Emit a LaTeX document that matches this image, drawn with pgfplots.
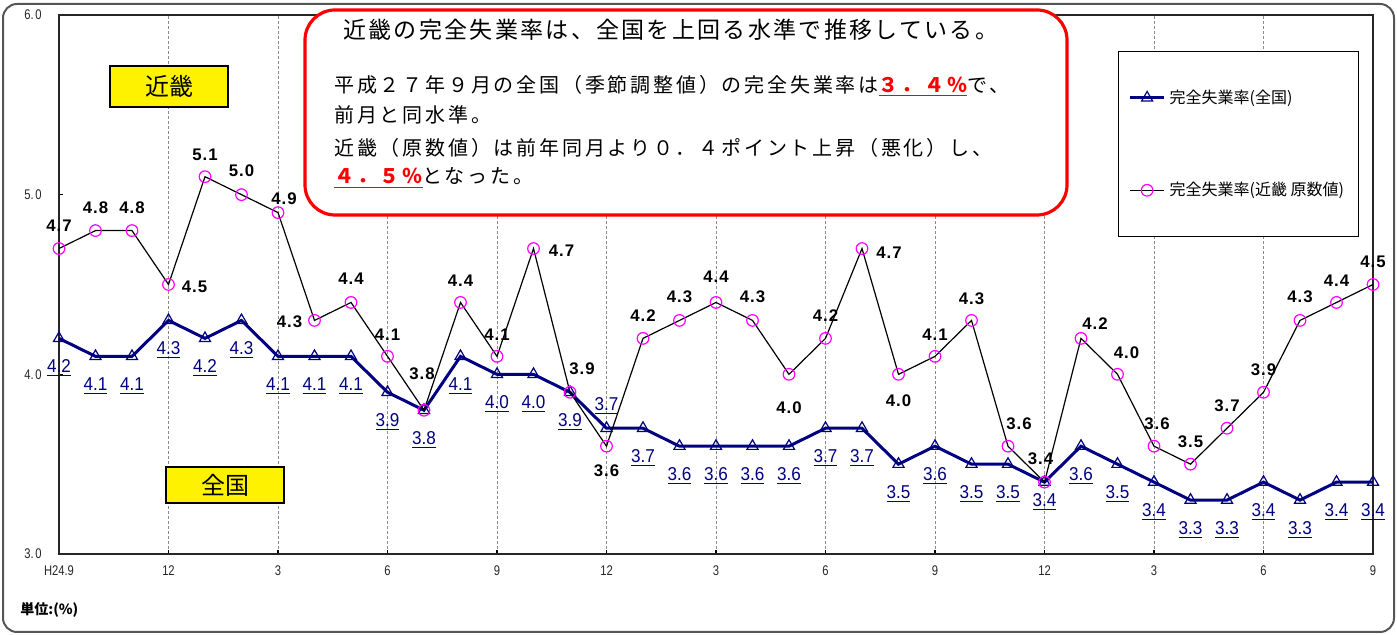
\documentclass[border=0pt]{standalone}
\usepackage{fontspec}
\usepackage{pgfplots}
\usepackage{pgfplotstable}
\pgfplotsset{compat=1.18}
\setmainfont{Liberation Sans}
\newfontfamily\jp{Noto Sans CJK JP}
\newfontfamily\jphead[LetterSpace=10]{Noto Sans CJK JP}
\newfontfamily\jpbody[LetterSpace=14]{Noto Sans CJK JP}
\newfontfamily\narrowsans[FakeStretch=0.92]{Liberation Sans}
\newfontfamily\ticksans[FakeStretch=0.8]{Liberation Sans}
\newfontfamily\valfont[LetterSpace=6]{Liberation Sans}

\definecolor{navy}{RGB}{0,0,128}
\definecolor{kinkimark}{RGB}{255,0,255}
\definecolor{framegray}{RGB}{85,85,85}

% month index (0 = H24.9), rate in %, label offset in px (dx right, dy down to the label baseline)
\pgfplotstableread{
idx rate dx dy
0 4.2 0 34
1 4.1 0 34
2 4.1 0 34
3 4.3 0 34
4 4.2 0 34
5 4.3 0 34
6 4.1 0 34
7 4.1 0 34
8 4.1 0 34
9 3.9 0 34
10 3.8 0 34
11 4.1 0 34
12 4.0 0 34
13 4.0 0 34
14 3.9 0 34
15 3.7 0 -17.5
16 3.7 0 34
17 3.6 0 34
18 3.6 0 34
19 3.6 0 34
20 3.6 0 34
21 3.7 0 34
22 3.7 0 34
23 3.5 0 34
24 3.6 0 34
25 3.5 0 34
26 3.5 0 34
27 3.4 0 24.5
28 3.6 0 34
29 3.5 0 34
30 3.4 0 34
31 3.3 0 34
32 3.3 0 34
33 3.4 0 34
34 3.3 0 34
35 3.4 0 34
36 3.4 0 34
}\zenkoku

\pgfplotstableread{
idx rate dx dy
0 4.7 0 -17.5
1 4.8 0 -17.5
2 4.8 0 -17.5
3 4.5 26 8.5
4 5.1 0 -16.5
5 5.0 0 -18.5
6 4.9 6 -8.5
7 4.3 -25 7.5
8 4.4 0 -17.5
9 4.1 0 -15.5
10 3.8 -2 -30.5
11 4.4 0 -15.5
12 4.1 0 -15.5
13 4.7 28 7.5
14 3.9 12 -17.5
15 3.6 0 30.5
16 4.2 0 -16.5
17 4.3 0 -17.5
18 4.4 0 -19.5
19 4.3 0 -17.5
20 4.0 0 39.5
21 4.2 0 -16.5
22 4.7 27 9.5
23 4.0 0 32.5
24 4.1 0 -15.5
25 4.3 0 -15.5
26 3.6 11 -16.5
27 3.4 -4 -17.5
28 4.2 14 -8.5
29 4.0 9 -15.5
30 3.6 3 -16.5
31 3.5 0 -16.5
32 3.7 0 -16.5
33 3.9 0 -16.5
34 4.3 0 -17.5
35 4.4 0 -15.5
36 4.5 0 -16.5
}\kinki

\begin{document}
\begin{tikzpicture}
\useasboundingbox (0,0) rectangle (698.5pt,317.5pt);

\begin{axis}[
  at={(29.5pt,40.5pt)}, anchor=south west,
  scale only axis, width=657pt, height=269.5pt,
  xmin=0, xmax=36, ymin=3, ymax=6,
  xtick={0,3,...,36},
  xticklabels={H24.9,12,3,6,9,12,3,6,9,12,3,6,9},
  ytick={3,4,5,6},
  yticklabels={3.\hspace{0.8pt}0,4.\hspace{0.8pt}0,5.\hspace{0.8pt}0,6.\hspace{0.8pt}0},
  tick align=inside, tick pos=left, major tick length=2pt,
  xmajorgrids,
  major x grid style={black!45, dash pattern=on 1.5pt off 1pt, line width=0.5pt},
  axis line style={black!85, line width=0.8pt},
  tick style={black, line width=0.6pt},
  ticklabel style={font=\ticksans\fontsize{7}{8}\selectfont, text=black!85},
  xticklabel style={inner sep=0pt, anchor=north, yshift=-5.5pt},
  yticklabel style={inner sep=0pt, anchor=east, xshift=-8.5pt},
  clip=false,
  legend style={at={(0.8059,0.9332)}, anchor=north west,
    draw=black, line width=0.6pt, fill=white,
    inner xsep=5pt, inner ysep=17pt, row sep=34pt,
    font=\jp\fontsize{8}{9.6}\selectfont},
  legend cell align=left,
]

% national, seasonally adjusted
\addplot[navy, line width=1.5pt,
  mark=triangle, mark size=3.2pt,
  mark options={solid, fill=white, draw=navy, line width=0.6pt},
  point meta=y,
  visualization depends on={\thisrow{dx} \as \ldx},
  visualization depends on={\thisrow{dy} \as \ldy},
  nodes near coords={\underline{\pgfmathprintnumber[fixed,fixed zerofill,precision=1,assume math mode=true]{\pgfplotspointmeta}}},
  nodes near coords align={anchor=base},
  every node near coord/.append style={anchor=base, inner sep=0pt,
    xshift={(\ldx)*0.5pt}, yshift={(0-(\ldy))*0.5pt},
    text=navy, font=\narrowsans\fontsize{9.3}{10}\selectfont},
] table[x=idx, y=rate] {\zenkoku};
\addlegendentry{完全失業率(全国)}

% Kinki, original series
\addplot[black, line width=0.6pt,
  mark=o, mark size=2.9pt,
  mark options={solid, fill=white, draw=kinkimark, line width=0.6pt},
  point meta=y,
  visualization depends on={\thisrow{dx} \as \ldx},
  visualization depends on={\thisrow{dy} \as \ldy},
  nodes near coords={\pgfmathprintnumber[fixed,fixed zerofill,precision=1,assume math mode=true]{\pgfplotspointmeta}},
  nodes near coords align={anchor=base},
  every node near coord/.append style={anchor=base, inner sep=0pt,
    xshift={(\ldx)*0.5pt}, yshift={(0-(\ldy))*0.5pt},
    text=black, font=\valfont\bfseries\fontsize{8.4}{9}\selectfont},
] table[x=idx, y=rate] {\kinki};
\addlegendentry{完全失業率(近畿 原数値)}

\end{axis}

% annotations, in pixel units measured from the top left corner
\begin{scope}[x=0.5pt, y=-0.5pt, yshift=317.5pt]
  \draw[framegray, line width=1pt, rounded corners=7pt] (3,4) rectangle (1394,632);

  \draw[red, line width=1.6pt, fill=white, rounded corners=15pt] (305,10) rectangle (1067,215);
  \node[anchor=west, inner sep=0pt, font=\jphead\fontsize{11.5}{13}\selectfont]
    at (343,30) {近畿の完全失業率は、全国を上回る水準で推移している。};
  \node[anchor=west, inner sep=0pt, font=\jpbody\fontsize{10}{12}\selectfont]
    at (334,86) {平成２７年９月の全国（季節調整値）の完全失業率は{\color{red}\bfseries\underline{３．４％}}で、};
  \node[anchor=west, inner sep=0pt, font=\jpbody\fontsize{10}{12}\selectfont]
    at (334,115) {前月と同水準。};
  \node[anchor=west, inner sep=0pt, font=\jpbody\fontsize{10}{12}\selectfont]
    at (334,148) {近畿（原数値）は前年同月より０．４ポイント上昇（悪化）し、};
  \node[anchor=west, inner sep=0pt, font=\jpbody\fontsize{10}{12}\selectfont]
    at (334,178) {{\color{red}\bfseries\underline{４．５％}}となった。};

  \node[draw=black, line width=0.6pt, fill=yellow, minimum width=59pt, minimum height=20.5pt,
    inner sep=0pt, font=\jp\fontsize{12}{14}\selectfont] at (169,86.5) {近畿};
  \node[draw=black, line width=0.6pt, fill=yellow, minimum width=59pt, minimum height=18pt,
    inner sep=0pt, font=\jp\fontsize{12}{14}\selectfont] at (225,485) {全国};

  \node[anchor=west, inner sep=0pt, font=\jp\bfseries\fontsize{7}{8}\selectfont]
    at (20,610) {単位:(\%)};
\end{scope}
\end{tikzpicture}
\end{document}
